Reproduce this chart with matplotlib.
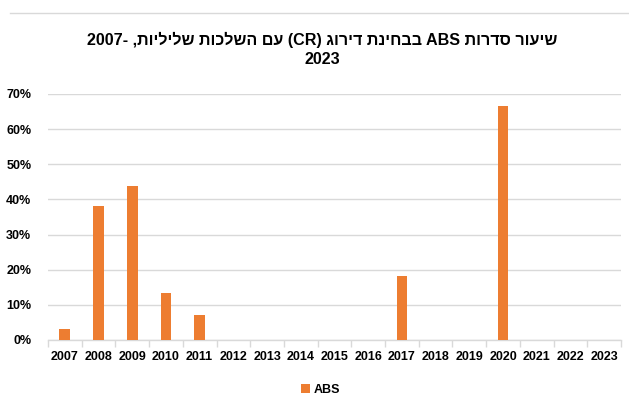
import matplotlib
matplotlib.use("Agg")
import matplotlib.pyplot as plt
import numpy as np
from matplotlib.lines import Line2D
from matplotlib.patches import Patch

plt.rcParams['font.family'] = ['Liberation Sans', 'DejaVu Sans']

years = ["2007", "2008", "2009", "2010", "2011", "2012", "2013", "2014", "2015",
         "2016", "2017", "2018", "2019", "2020", "2021", "2022", "2023"]
abs_values = [0.03, 0.38, 0.438, 0.133, 0.07, 0, 0, 0, 0,
              0, 0.181, 0, 0, 0.667, 0, 0, 0]
series_name = "ABS"
y_ticks = [0, 0.1, 0.2, 0.3, 0.4, 0.5, 0.6, 0.7]

# Title (logical Hebrew order), converted to visual order for LTR rendering
title_tokens = ["שיעור", "סדרות", "ABS", "בבחינת", "דירוג", "(CR)", "עם", "השלכות", "שליליות,", "-2007"]
title_line2 = "2023"


def visual(tok):
    if any('\u0590' <= c <= '\u05ff' for c in tok):
        return tok[::-1]
    if tok.startswith('-'):
        return tok[1:] + '-'
    return tok


title_line1 = " ".join(visual(t) for t in reversed(title_tokens))

fig = plt.figure(figsize=(6.29, 4.07), dpi=100)
ax = fig.add_axes([48 / 629, 1 - 340 / 407, (621 - 48) / 629, (340 - 94) / 407])

x = np.arange(len(years))
color = "#ED7D31"
ax.bar(x, abs_values, width=0.32, color=color, zorder=3)

ax.set_xlim(-0.5, len(years) - 0.5)
ax.set_ylim(0, 0.7)
ax.set_yticks(y_ticks)
ax.set_yticklabels([f"{int(round(v * 100))}%" for v in y_ticks], fontsize=9, fontweight='bold')
ax.set_xticks(x)
ax.set_xticklabels(years, fontsize=9, fontweight='bold')
ax.set_xticks(np.arange(-0.5, len(years), 1), minor=True)
ax.tick_params(axis='x', which='major', length=0, pad=8)
ax.tick_params(axis='x', which='minor', length=5, color="#d9d9d9", width=1)
ax.tick_params(axis='y', length=0, pad=12)

ax.grid(axis='y', color="#d9d9d9", linewidth=1, zorder=0)
for s in ['left', 'right', 'top']:
    ax.spines[s].set_visible(False)
ax.spines['bottom'].set_color("#d9d9d9")
ax.spines['bottom'].set_linewidth(1)

fig.text(0.512, 1 - 40 / 407, title_line1, ha='center', va='center', fontsize=11.6, fontweight='bold')
fig.text(0.512, 1 - 59 / 407, title_line2, ha='center', va='center', fontsize=11.6, fontweight='bold')

fig.add_artist(Line2D([10 / 629, 1], [1 - 13 / 407, 1 - 13 / 407], transform=fig.transFigure,
                      color="#d9d9d9", linewidth=1))

handles = [Patch(facecolor=color, label=series_name)]
fig.legend(handles=handles, loc='center', bbox_to_anchor=(0.51, 1 - 390 / 407), frameon=False,
           prop={'size': 9, 'weight': 'bold'}, handlelength=0.7, handleheight=0.7, handletextpad=0.3)

fig.savefig("out.png", dpi=100)
